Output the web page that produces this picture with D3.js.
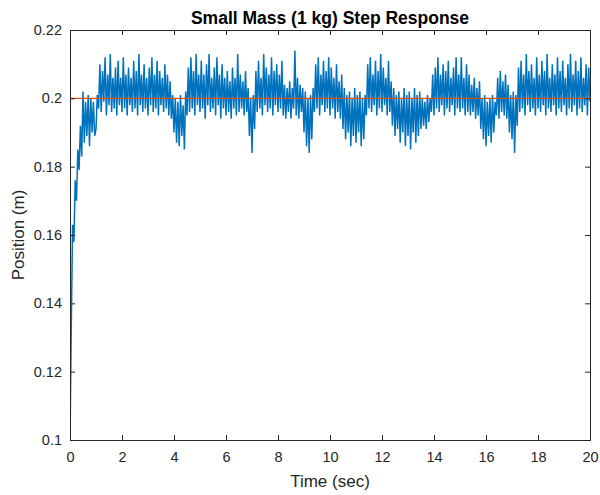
<!DOCTYPE html>
<html>
<head>
<meta charset="utf-8">
<script src="https://cdn.jsdelivr.net/npm/d3@7"></script>
<style>
  html, body { margin: 0; padding: 0; background: #fff; }
  svg { display: block; font-family: "Liberation Sans", Arial, Helvetica, sans-serif; }
</style>
</head>
<body>
<svg id="chart" width="600" height="495"></svg>
<script>
// ---- data ----
const titleText = "Small Mass (1 kg) Step Response";
const xLabel = "Time (sec)";
const yLabel = "Position (m)";
const timeStep = 0.05; // seconds between samples
const positionValues = [
  // t = 0 .. 0.95
  0.100, 0.134, 0.163, 0.158, 0.176, 0.170, 0.185, 0.179, 0.192, 0.183, 0.202, 0.187, 0.199, 0.189, 0.201, 0.186, 0.200, 0.190, 0.199, 0.189,
  // t = 1
  0.191, 0.201, 0.197, 0.210, 0.196, 0.208, 0.199, 0.212, 0.195, 0.207, 0.198, 0.213, 0.196, 0.206, 0.197, 0.209, 0.195, 0.211, 0.198, 0.206,
  // t = 2
  0.196, 0.212, 0.197, 0.207, 0.195, 0.209, 0.198, 0.206, 0.196, 0.211, 0.197, 0.208, 0.195, 0.213, 0.198, 0.207, 0.196, 0.210, 0.197, 0.206,
  // t = 3
  0.195, 0.209, 0.198, 0.212, 0.196, 0.207, 0.197, 0.211, 0.195, 0.208, 0.198, 0.206, 0.196, 0.210, 0.197, 0.207, 0.195, 0.205, 0.194, 0.201,
  // t = 4
  0.190, 0.200, 0.187, 0.199, 0.186, 0.201, 0.189, 0.198, 0.185, 0.202, 0.195, 0.209, 0.196, 0.212, 0.197, 0.208, 0.195, 0.213, 0.198, 0.207,
  // t = 5
  0.196, 0.211, 0.197, 0.207, 0.194, 0.210, 0.198, 0.213, 0.196, 0.206, 0.197, 0.209, 0.195, 0.212, 0.198, 0.207, 0.194, 0.210, 0.197, 0.206,
  // t = 6
  0.195, 0.208, 0.196, 0.205, 0.194, 0.209, 0.197, 0.206, 0.195, 0.213, 0.196, 0.207, 0.197, 0.205, 0.195, 0.208, 0.196, 0.203, 0.189, 0.200,
  // t = 7
  0.184, 0.201, 0.191, 0.208, 0.196, 0.211, 0.197, 0.206, 0.195, 0.213, 0.198, 0.209, 0.196, 0.207, 0.197, 0.212, 0.195, 0.208, 0.198, 0.210,
  // t = 8
  0.196, 0.207, 0.197, 0.211, 0.195, 0.204, 0.194, 0.203, 0.196, 0.205, 0.194, 0.203, 0.197, 0.214, 0.195, 0.206, 0.194, 0.204, 0.196, 0.203,
  // t = 9
  0.190, 0.202, 0.186, 0.200, 0.184, 0.201, 0.188, 0.203, 0.196, 0.210, 0.197, 0.212, 0.195, 0.207, 0.198, 0.211, 0.196, 0.208, 0.197, 0.212,
  // t = 10
  0.195, 0.209, 0.197, 0.206, 0.194, 0.210, 0.196, 0.205, 0.194, 0.207, 0.191, 0.203, 0.188, 0.201, 0.190, 0.202, 0.186, 0.200, 0.189, 0.203,
  // t = 11
  0.187, 0.201, 0.190, 0.202, 0.186, 0.200, 0.188, 0.201, 0.195, 0.210, 0.197, 0.212, 0.196, 0.207, 0.198, 0.211, 0.195, 0.208, 0.197, 0.213,
  // t = 12
  0.196, 0.209, 0.198, 0.206, 0.195, 0.211, 0.196, 0.205, 0.192, 0.203, 0.189, 0.201, 0.191, 0.202, 0.187, 0.200, 0.190, 0.203, 0.186, 0.201,
  // t = 13
  0.189, 0.202, 0.185, 0.200, 0.190, 0.203, 0.187, 0.201, 0.189, 0.202, 0.191, 0.200, 0.192, 0.199, 0.191, 0.201, 0.193, 0.200, 0.196, 0.207,
  // t = 14
  0.195, 0.209, 0.197, 0.212, 0.196, 0.207, 0.198, 0.210, 0.195, 0.208, 0.197, 0.211, 0.196, 0.206, 0.198, 0.209, 0.195, 0.212, 0.197, 0.207,
  // t = 15
  0.196, 0.212, 0.197, 0.206, 0.195, 0.210, 0.196, 0.207, 0.195, 0.204, 0.196, 0.206, 0.194, 0.203, 0.195, 0.205, 0.191, 0.200, 0.188, 0.201,
  // t = 16
  0.186, 0.199, 0.189, 0.200, 0.187, 0.201, 0.190, 0.199, 0.195, 0.206, 0.194, 0.208, 0.196, 0.205, 0.195, 0.207, 0.194, 0.204, 0.190, 0.201,
  // t = 17
  0.188, 0.202, 0.184, 0.201, 0.192, 0.209, 0.196, 0.211, 0.197, 0.207, 0.195, 0.213, 0.198, 0.208, 0.196, 0.210, 0.197, 0.206, 0.195, 0.212,
  // t = 18
  0.197, 0.207, 0.196, 0.211, 0.198, 0.208, 0.195, 0.213, 0.197, 0.206, 0.196, 0.210, 0.198, 0.207, 0.195, 0.212, 0.197, 0.208, 0.196, 0.211,
  // t = 19 .. 20
  0.198, 0.206, 0.195, 0.210, 0.197, 0.213, 0.196, 0.207, 0.198, 0.211, 0.195, 0.208, 0.197, 0.212, 0.196, 0.206, 0.198, 0.210, 0.195, 0.209,
  0.199
];
const setpointTimes = [0, 20];
const setpointValues = [0.2, 0.2];
const xTicks = [0, 2, 4, 6, 8, 10, 12, 14, 16, 18, 20];
const yTicks = [0.1, 0.12, 0.14, 0.16, 0.18, 0.2, 0.22];

// ---- layout ----
const svg = d3.select("#chart");
const margin = { left: 70, right: 10, top: 30, bottom: 55 };
const W = 600, H = 495;
const x0 = margin.left, x1 = W - margin.right;
const y0 = margin.top, y1 = H - margin.bottom;

const x = d3.scaleLinear().domain([0, 20]).range([x0, x1]);
const y = d3.scaleLinear().domain([0.1, 0.22]).range([y1, y0]);

const axisColor = "#262626";

// clip
svg.append("defs").append("clipPath").attr("id", "clip")
  .append("rect").attr("x", x0).attr("y", y0).attr("width", x1 - x0).attr("height", y1 - y0);

// data lines
const series = positionValues.map((v, i) => [i * timeStep, v]);
const line = d3.line().x(d => x(d[0])).y(d => y(d[1]));

const plot = svg.append("g").attr("clip-path", "url(#clip)");
plot.append("path")
  .datum(series)
  .attr("d", line)
  .attr("fill", "none")
  .attr("stroke", "#0072BD")
  .attr("stroke-width", 1.5)
  .attr("stroke-linejoin", "bevel");

plot.append("path")
  .datum(setpointTimes.map((t, i) => [t, setpointValues[i]]))
  .attr("d", line)
  .attr("fill", "none")
  .attr("stroke", "#D95319")
  .attr("stroke-width", 1.2);

// axes (ticks inward, MATLAB style)
const fmtY = d => d3.format("")(+d.toFixed(2));
const gx = svg.append("g").attr("transform", `translate(0,${y1})`)
  .call(d3.axisBottom(x).tickValues(xTicks).tickSize(-5).tickPadding(12).tickFormat(d3.format("d")));
const gxTop = svg.append("g").attr("transform", `translate(0,${y0})`)
  .call(d3.axisTop(x).tickValues(xTicks).tickSize(-5).tickFormat(""));
const gy = svg.append("g").attr("transform", `translate(${x0},0)`)
  .call(d3.axisLeft(y).tickValues(yTicks).tickSize(-5).tickPadding(8).tickFormat(fmtY));
const gyRight = svg.append("g").attr("transform", `translate(${x1},0)`)
  .call(d3.axisRight(y).tickValues(yTicks).tickSize(-5).tickFormat(""));

[gx, gxTop, gy, gyRight].forEach(g => {
  g.select(".domain").attr("stroke", axisColor).attr("stroke-width", 1);
  g.selectAll(".tick line").attr("stroke", axisColor);
  g.selectAll(".tick text").attr("fill", axisColor).style("font-size", "14.5px")
    .style("font-family", "'Liberation Sans', Arial, sans-serif");
});

// title and labels
svg.append("text")
  .attr("x", (x0 + x1) / 2).attr("y", 24)
  .attr("text-anchor", "middle")
  .attr("fill", "#000")
  .style("font-size", "17.5px").style("font-weight", "bold")
  .text(titleText);

svg.append("text")
  .attr("x", (x0 + x1) / 2).attr("y", 487)
  .attr("text-anchor", "middle")
  .attr("fill", axisColor)
  .style("font-size", "17px")
  .text(xLabel);

svg.append("text")
  .attr("transform", `translate(24,${(y0 + y1) / 2}) rotate(-90)`)
  .attr("text-anchor", "middle")
  .attr("fill", axisColor)
  .style("font-size", "17px")
  .text(yLabel);
</script>
</body>
</html>
